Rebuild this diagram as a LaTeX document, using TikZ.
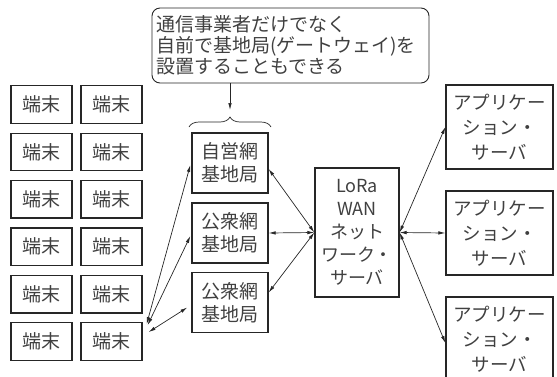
\documentclass[tikz,border=0pt]{standalone}
\usepackage{fontspec}
\setmainfont{Noto Sans CJK JP}
\usetikzlibrary{arrows.meta,decorations.pathreplacing,calc}
\begin{document}
\begin{tikzpicture}[x=1pt,y=-1pt,
  box/.style={draw=black!85, line width=1.3pt, inner sep=0pt, align=center, text=black!75},
  term/.style={box, minimum width=61pt, minimum height=37.5pt, font=\fontsize{19}{22}\selectfont},
  base/.style={box, minimum width=76pt, minimum height=60pt, font=\fontsize{19}{23}\selectfont},
  app/.style={box, minimum width=107pt, minimum height=84pt, font=\fontsize{18.5}{25}\selectfont},
  conn/.style={line width=0.7pt, draw=black!85, {Latex[length=7pt,width=3.5pt]}-{Latex[length=7pt,width=3.5pt]}}
]
\useasboundingbox (0,0) rectangle (557,376);
\begin{scope}
\clip (0,0) rectangle (557,376);
% terminals
\foreach \r in {1,...,6}{
  \node[term] (tl\r) at (41.5,{104.5+47.4*(\r-1)}) {端末};
  \node[term] (tr\r) at (111.5,{104.5+47.4*(\r-1)}) {端末};
}
% base stations
\node[base] (b1) at (230,163) {自営網\\基地局};
\node[base] (b2) at (230,233) {公衆網\\基地局};
\node[base] (b3) at (230,302.5) {公衆網\\基地局};
% LoRa server
\node[box, minimum width=84pt, minimum height=129pt, font=\fontsize{18}{23}\selectfont] (lora) at (357,232.5) {LoRa\\WAN\\ネット\\ワーク・\\サーバ};
% application servers
\node[app] (a1) at (499.5,127) {アプリケー\\ション・\\サーバ};
\node[app] (a2) at (499.5,233) {アプリケー\\ション・\\サーバ};
\node[app] (a3) at (499.5,339) {アプリケー\\ション・\\サーバ};
\end{scope}
% callout
\node[draw=black!85, line width=0.9pt, rounded corners=8pt, minimum width=277pt, minimum height=75pt, inner sep=0pt, text width=269pt, align=left, text=black!75, font=\fontsize{19}{21}\selectfont] (call) at (290.5,45.5) {通信事業者だけでなく\\自前で基地局(ゲートウェイ)を\\設置することもできる};
% brace
\coordinate (bl) at (189,127);
\coordinate (br) at (271,127);
\coordinate (btip) at (230,110);
\draw[line width=0.7pt, draw=black!85, decorate, decoration={brace, amplitude=10pt}] (bl) -- (br);
\draw[line width=0.7pt, draw=black!85, -{Latex[length=7pt,width=3.5pt]}] (call.south -| btip) -- (btip);
% connectors terminal -> base
\coordinate (tA) at ($(tr6.north east)+(4,2)$);
\coordinate (tB) at ($(tr6.north east)+(6,10)$);
\draw[conn] (tA) -- ($(b1.west)+(-1,2)$);
\draw[conn] ($(tA)+(1,1)$) -- ($(b2.west)+(-1,3)$);
\draw[conn] (tB) -- ($(b3.west)+(-4,5)$);
% base -> LoRa
\draw[conn] ($(b1.east)+(0,6)$) -- (lora.west);
\draw[conn] (b2.east) -- (lora.west);
\draw[conn] ($(b3.east)+(0,-10)$) -- (lora.west);
% LoRa -> apps
\draw[conn] (lora.east) -- (a1.west);
\draw[conn] (lora.east) -- (a2.west);
\draw[conn] (lora.east) -- ($(a3.west)+(0,4)$);
\end{tikzpicture}
\end{document}
